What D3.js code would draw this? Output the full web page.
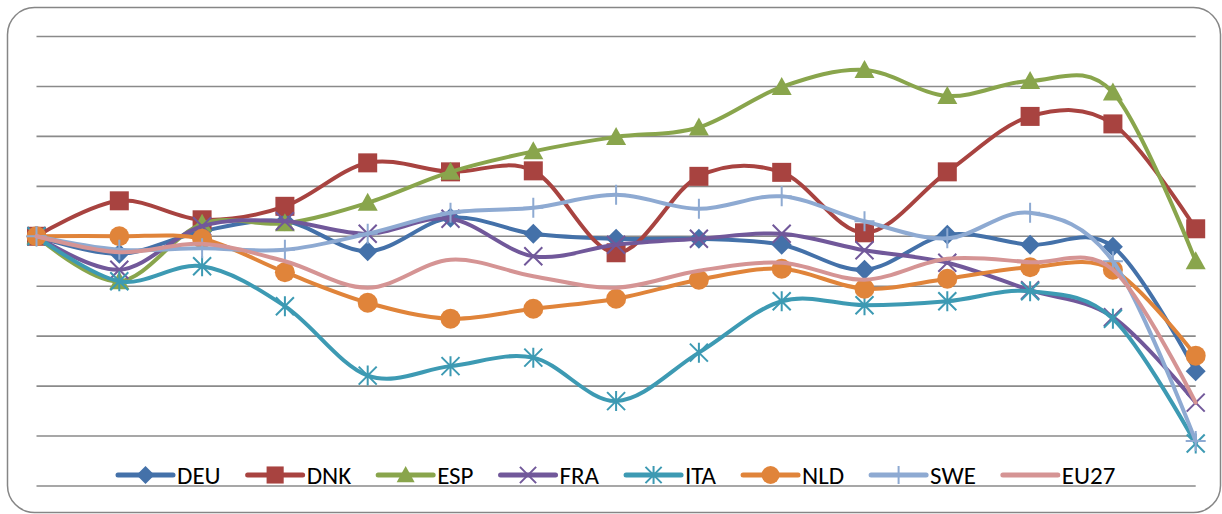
<!DOCTYPE html>
<html>
<head>
<meta charset="utf-8">
<script src="https://cdn.jsdelivr.net/npm/d3@7/dist/d3.min.js"></script>
<style>
  html, body { margin: 0; padding: 0; background: #ffffff; }
  svg { display: block; }
</style>
</head>
<body>
<svg id="chart" width="1222" height="514"></svg>
<script>
// Index values per country (first period = 100)
const periods = [1995, 1996, 1997, 1998, 1999, 2000, 2001, 2002, 2003, 2004, 2005, 2006, 2007, 2008, 2009];
const DEU  = [100, 96.5, 101.0, 103.0, 97.0, 103.7, 100.5, 99.5, 99.5, 98.3, 93.3, 100.3, 98.3, 97.9, 73.0];
const DNK  = [100, 107.1, 103.3, 106.0, 114.7, 112.9, 113.1, 96.7, 112.0, 112.8, 100.7, 112.9, 124.0, 122.5, 101.5];
const ESP  = [100, 91.0, 102.5, 102.6, 106.7, 112.9, 117.0, 119.9, 121.8, 129.9, 133.3, 128.1, 131.1, 128.8, 95.0];
const FRA  = [100, 93.3, 102.0, 103.0, 100.5, 103.5, 96.0, 98.3, 99.5, 100.5, 97.2, 94.7, 89.2, 83.8, 66.7];
const ITA  = [100, 91.0, 94.0, 86.0, 72.1, 74.0, 75.7, 67.0, 76.7, 87.0, 86.2, 87.0, 89.0, 83.5, 58.5];
const NLD  = [100, 100.0, 99.5, 92.8, 86.7, 83.5, 85.5, 87.5, 91.3, 93.5, 89.5, 91.5, 93.8, 93.3, 76.1];
const SWE  = [100, 97.3, 97.6, 97.3, 100.5, 104.7, 105.7, 108.3, 105.5, 108.0, 103.0, 99.6, 104.7, 95.0, 59.0];
const EU27 = [100, 96.8, 98.5, 95.0, 89.7, 95.3, 92.0, 89.7, 93.1, 94.7, 91.3, 95.5, 94.8, 93.3, 66.7];

const seriesNames = ["DEU", "DNK", "ESP", "FRA", "ITA", "NLD", "SWE", "EU27"];
const seriesValues = [DEU, DNK, ESP, FRA, ITA, NLD, SWE, EU27];
const gridTicks = [50, 60, 70, 80, 90, 100, 110, 120, 130, 140];

const style = {
  DEU:  { color: "#4471a9", marker: "diamond" },
  DNK:  { color: "#a84340", marker: "square" },
  ESP:  { color: "#89a54c", marker: "triangle" },
  FRA:  { color: "#71589a", marker: "cross" },
  ITA:  { color: "#3d9ab3", marker: "star" },
  NLD:  { color: "#e0843a", marker: "circle" },
  SWE:  { color: "#8eaad2", marker: "plus" },
  EU27: { color: "#d59494", marker: "none" }
};

const svg = d3.select("#chart");

// Rounded chart frame
svg.append("rect")
  .attr("x", 7.5).attr("y", 7.5)
  .attr("width", 1213).attr("height", 505)
  .attr("rx", 27).attr("ry", 27)
  .attr("fill", "#ffffff")
  .attr("stroke", "#868686")
  .attr("stroke-width", 1.5);

const x = d3.scalePoint().domain(periods).range([36.5, 1195.7]);
const y = d3.scaleLinear().domain([50, 140]).range([486, 36.5]);

// Horizontal gridlines
svg.append("g")
  .selectAll("line")
  .data(gridTicks)
  .join("line")
  .attr("x1", 36.5).attr("x2", 1195.7)
  .attr("y1", d => y(d)).attr("y2", d => y(d))
  .attr("stroke", "#8a8a8a")
  .attr("stroke-width", 1.6);

const line = d3.line()
  .x((d, i) => x(periods[i]))
  .y(d => y(d))
  .curve(d3.curveCardinal.tension(0));

function drawMarker(g, type, color, cx, cy, s) {
  const h = s / 2;
  if (type === "diamond") {
    g.append("path")
      .attr("d", `M${cx},${cy - h}L${cx + h},${cy}L${cx},${cy + h}L${cx - h},${cy}Z`)
      .attr("fill", color);
  } else if (type === "square") {
    const q = h * 0.95;
    g.append("rect")
      .attr("x", cx - q).attr("y", cy - q)
      .attr("width", 2 * q).attr("height", 2 * q)
      .attr("fill", color);
  } else if (type === "triangle") {
    g.append("path")
      .attr("d", `M${cx},${cy - h}L${cx + h},${cy + h * 0.8}L${cx - h},${cy + h * 0.8}Z`)
      .attr("fill", color);
  } else if (type === "circle") {
    g.append("circle").attr("cx", cx).attr("cy", cy).attr("r", h).attr("fill", color);
  } else if (type === "cross") {
    const k = h * 0.9;
    g.append("path")
      .attr("d", `M${cx - k},${cy - k}L${cx + k},${cy + k}M${cx - k},${cy + k}L${cx + k},${cy - k}`)
      .attr("stroke", color).attr("stroke-width", 2).attr("fill", "none");
  } else if (type === "star") {
    const k = h * 0.9;
    g.append("path")
      .attr("d", `M${cx - k},${cy - k}L${cx + k},${cy + k}M${cx - k},${cy + k}L${cx + k},${cy - k}M${cx},${cy - h}L${cx},${cy + h}`)
      .attr("stroke", color).attr("stroke-width", 2).attr("fill", "none");
  } else if (type === "plus") {
    g.append("path")
      .attr("d", `M${cx - h},${cy}L${cx + h},${cy}M${cx},${cy - h}L${cx},${cy + h}`)
      .attr("stroke", color).attr("stroke-width", 2).attr("fill", "none");
  }
}

// Series lines and markers
const plot = svg.append("g");
seriesNames.forEach((name, si) => {
  const vals = seriesValues[si];
  const st = style[name];
  const g = plot.append("g").attr("class", "series-" + name);
  g.append("path")
    .attr("d", line(vals))
    .attr("fill", "none")
    .attr("stroke", st.color)
    .attr("stroke-width", 4)
    .attr("stroke-linejoin", "round")
    .attr("stroke-linecap", "round");
  vals.forEach((v, i) => drawMarker(g, st.marker, st.color, x(periods[i]), y(v), 20));
});

// Legend
const legend = svg.append("g");
const legendY = 475;
const lineLen = 55;
let lx = 118;
seriesNames.forEach(name => {
  const st = style[name];
  const g = legend.append("g");
  g.append("line")
    .attr("x1", lx).attr("x2", lx + lineLen)
    .attr("y1", legendY).attr("y2", legendY)
    .attr("stroke", st.color).attr("stroke-width", 5)
    .attr("stroke-linecap", "round");
  drawMarker(g, st.marker, st.color, lx + lineLen / 2, legendY, 18);
  const t = g.append("text")
    .attr("x", lx + lineLen + 4)
    .attr("y", legendY + 8.5)
    .attr("font-family", "Carlito, Lato, 'Open Sans', sans-serif")
    .attr("font-size", 25)
    .attr("fill", "#000000")
    .text(name);
  lx += lineLen + 4 + t.node().getComputedTextLength() + 27;
});
</script>
</body>
</html>
